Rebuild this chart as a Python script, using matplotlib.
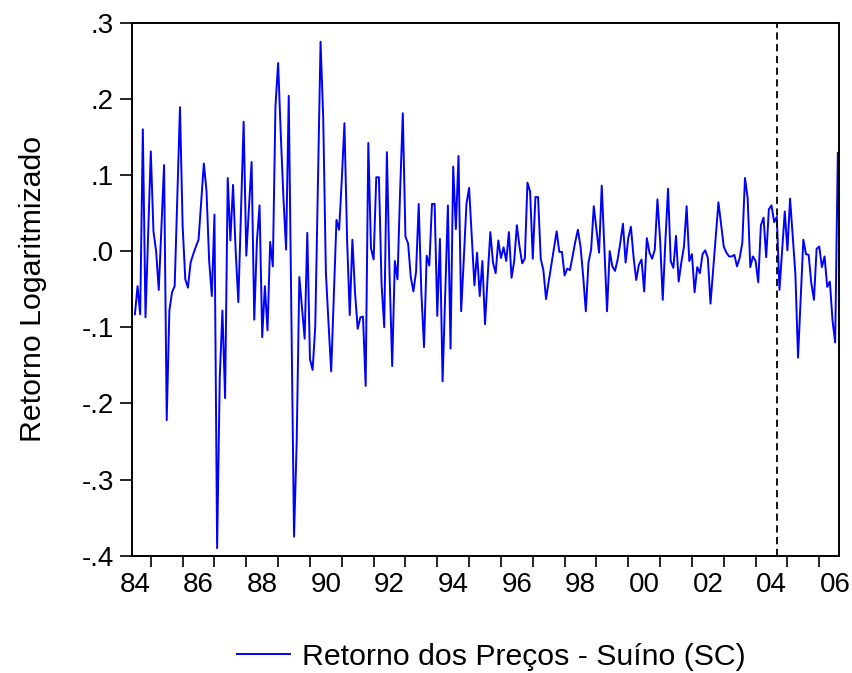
import numpy as np
import pandas as pd
import matplotlib
matplotlib.use("Agg")
import matplotlib.pyplot as plt
from matplotlib.ticker import FixedLocator, FixedFormatter

# Monthly log returns (1984:07 - 2006:08)
start_month = "1984-07"
returns = [
    -0.083, -0.046, -0.083, 0.160, -0.087, 0.022, 0.131, 0.026, 0.000, -0.051,
    0.031, 0.113, -0.222, -0.078, -0.054, -0.046, 0.070, 0.189, 0.033, -0.037,
    -0.048, -0.015, -0.004, 0.006, 0.015, 0.066, 0.115, 0.079, -0.013, -0.059,
    0.048, -0.390, -0.166, -0.078, -0.193, 0.096, 0.014, 0.087, 0.000, -0.067,
    0.053, 0.170, -0.006, 0.057, 0.117, -0.090, 0.013, 0.060, -0.113, -0.046,
    -0.104, 0.012, -0.020, 0.191, 0.247, 0.153, 0.070, 0.002, 0.204, -0.080,
    -0.375, -0.250, -0.034, -0.074, -0.115, 0.024, -0.142, -0.156, -0.099, 0.085,
    0.275, 0.175, -0.028, -0.095, -0.158, -0.058, 0.041, 0.028, 0.094, 0.168,
    0.015, -0.084, 0.015, -0.055, -0.102, -0.087, -0.086, -0.177, 0.142, 0.004,
    -0.011, 0.097, 0.097, -0.044, -0.100, 0.130, -0.030, -0.151, -0.013, -0.037,
    0.080, 0.181, 0.019, 0.010, -0.034, -0.053, -0.027, 0.062, -0.055, -0.126,
    -0.006, -0.019, 0.062, 0.062, -0.085, 0.016, -0.171, -0.055, 0.060, -0.128,
    0.111, 0.029, 0.125, -0.079, -0.010, 0.062, 0.083, 0.019, -0.045, -0.002,
    -0.059, -0.013, -0.096, -0.033, 0.025, -0.015, -0.029, 0.014, -0.009, 0.005,
    -0.013, 0.025, -0.035, -0.013, 0.034, 0.006, -0.016, -0.010, 0.090, 0.078,
    -0.010, 0.071, 0.071, -0.010, -0.025, -0.063, -0.040, -0.018, 0.004, 0.026,
    -0.001, -0.001, -0.032, -0.023, -0.025, -0.007, 0.012, 0.028, 0.006, -0.033,
    -0.079, -0.015, 0.002, 0.059, 0.028, -0.002, 0.086, 0.004, -0.079, 0.000,
    -0.020, -0.026, -0.011, 0.011, 0.036, -0.015, 0.017, 0.032, -0.008, -0.038,
    -0.018, -0.011, -0.053, 0.017, -0.002, -0.010, 0.002, 0.068, 0.015, -0.064,
    0.014, 0.082, -0.013, -0.022, 0.020, -0.040, -0.015, 0.006, 0.059, -0.013,
    -0.004, -0.054, -0.021, -0.029, -0.004, 0.001, -0.009, -0.069, -0.024, 0.020,
    0.064, 0.035, 0.006, -0.002, -0.007, -0.007, -0.005, -0.020, -0.009, 0.011,
    0.096, 0.070, -0.021, -0.007, -0.013, -0.041, 0.034, 0.044, -0.008, 0.055,
    0.060, 0.038, 0.045, -0.051, 0.001, 0.052, 0.001, 0.069, 0.020, -0.030,
    -0.140, -0.062, 0.015, -0.004, -0.005, -0.042, -0.064, 0.003, 0.006, -0.021,
    -0.007, -0.047, -0.040, -0.091, -0.120, 0.129,
]
split_month = "2004-09"

year_ticks = list(range(1985, 2007))
label_years = list(range(1984, 2007, 2))
y_ticks = [0.3, 0.2, 0.1, 0.0, -0.1, -0.2, -0.3, -0.4]
y_labels = [".3", ".2", ".1", ".0", "-.1", "-.2", "-.3", "-.4"]

months = pd.period_range(start_month, periods=len(returns), freq="M")
t = months.year + (months.month - 1) / 12.0
split = pd.Period(split_month, freq="M")
t_split = split.year + (split.month - 1) / 12.0

plt.rcParams["font.family"] = ["Liberation Sans", "DejaVu Sans"]

fig = plt.figure(figsize=(8.53, 6.73), dpi=100)
ax = fig.add_axes([0.1544, 0.1743, 0.8288, 0.792])

line, = ax.plot(t, returns, color="#0000ff", linewidth=1.4,
                label="Retorno dos Preços - Suíno (SC)")
ax.axvline(t_split, color="black", linestyle=(0, (4, 2.5)), linewidth=1.3)

ax.set_xlim(1984.40, 2006.61)
ax.set_ylim(-0.4, 0.3)

# year boundaries get tick marks, labels sit in the middle of the year
ax.xaxis.set_major_locator(FixedLocator(year_ticks))
ax.xaxis.set_major_formatter(FixedFormatter([""] * len(year_ticks)))
ax.xaxis.set_minor_locator(FixedLocator([y + 0.5 for y in label_years]))
ax.xaxis.set_minor_formatter(FixedFormatter([f"{y % 100:02d}" for y in label_years]))
ax.tick_params(axis="x", which="major", direction="out", length=8, width=1.2)
ax.tick_params(axis="x", which="minor", length=0, pad=12, labelsize=20)

ax.set_yticks(y_ticks)
ax.set_yticklabels(y_labels)
ax.tick_params(axis="y", direction="out", length=9, width=1.2, pad=4, labelsize=20)

for s in ax.spines.values():
    s.set_linewidth(1.4)

ax.set_ylabel("Retorno Logaritmizado", fontsize=21.8, labelpad=25)

fig.legend(handles=[line], loc="center", bbox_to_anchor=(0.576, 0.024),
           frameon=False, fontsize=21.8, handlelength=1.75, handletextpad=0.4)

fig.savefig("out.png", dpi=100)
